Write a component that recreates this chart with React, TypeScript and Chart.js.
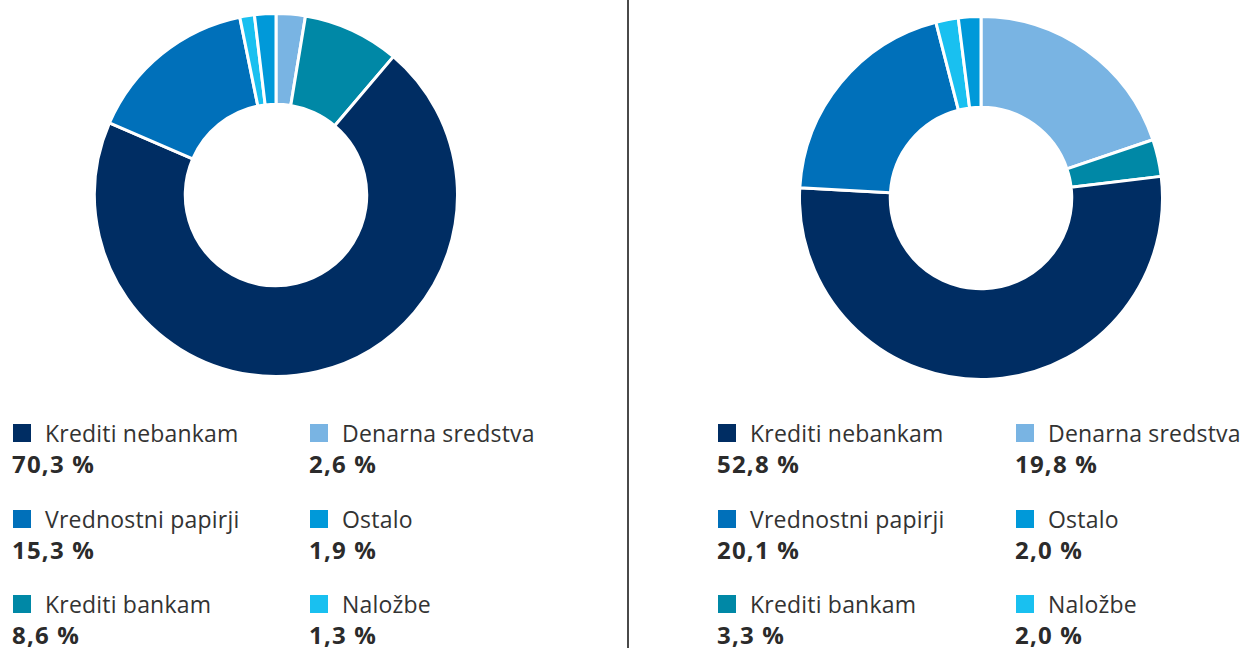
import React, { useEffect, useRef } from "react";
import { Chart, registerables } from "chart.js";

Chart.register(...registerables);

const categories = [
  "Denarna sredstva",
  "Krediti bankam",
  "Krediti nebankam",
  "Vrednostni papirji",
  "Naložbe",
  "Ostalo",
];
const leftValues = [2.6, 8.6, 70.3, 15.3, 1.3, 1.9];
const rightValues = [19.8, 3.3, 52.8, 20.1, 2.0, 2.0];
const colors = ["#79B4E3", "#0088A6", "#002D63", "#0070BA", "#19C0F0", "#0099D9"];
// legend grid (rows of [col1, col2]) as category indexes
const legendRows = [
  [2, 0],
  [3, 5],
  [1, 4],
];

const fmt = (v: number) => v.toFixed(1).replace(".", ",") + " %";

const FONT = "'Open Sans', 'DejaVu Sans', sans-serif";

function Doughnut({ values, left, top, size }: { values: number[]; left: number; top: number; size: number }) {
  const ref = useRef<HTMLCanvasElement | null>(null);
  useEffect(() => {
    if (!ref.current) return;
    const chart = new Chart(ref.current, {
      type: "doughnut",
      data: {
        labels: categories,
        datasets: [
          {
            data: values,
            backgroundColor: colors,
            borderColor: "#ffffff",
            borderWidth: 3,
          },
        ],
      },
      options: {
        responsive: false,
        animation: false,
        cutout: "50%",
        plugins: { legend: { display: false }, tooltip: { enabled: false } },
        layout: { padding: 0 },
      },
    });
    return () => chart.destroy();
  }, [values]);
  return (
    <canvas
      ref={ref}
      width={size}
      height={size}
      style={{ position: "absolute", left, top, width: size, height: size }}
    />
  );
}

function Legend({ values, x1, x2, top }: { values: number[]; x1: number; x2: number; top: number }) {
  const rowGap = 85.5;
  const items: JSX.Element[] = [];
  legendRows.forEach((row, r) => {
    row.forEach((ci, c) => {
      const x = c === 0 ? x1 : x2;
      const y = top + r * rowGap;
      items.push(
        <div key={`${r}-${c}`} style={{ position: "absolute", left: x, top: y }}>
          <div style={{ position: "absolute", left: 0, top: 0, width: 18, height: 18, background: colors[ci] }} />
          <div
            style={{
              position: "absolute",
              left: 32,
              top: -6,
              fontFamily: FONT,
              fontSize: 23,
              lineHeight: "30px",
              letterSpacing: "0.2px",
              color: "#333333",
              whiteSpace: "nowrap",
            }}
          >
            {categories[ci]}
          </div>
          <div
            style={{
              position: "absolute",
              left: -1,
              top: 25,
              fontFamily: FONT,
              fontSize: 24,
              fontWeight: 700,
              lineHeight: "30px",
              letterSpacing: "1.2px",
              color: "#2b2b2b",
              whiteSpace: "nowrap",
            }}
          >
            {fmt(values[ci])}
          </div>
        </div>
      );
    });
  });
  return <>{items}</>;
}

export default function App() {
  return (
    <div
      style={{
        position: "absolute",
        left: 0,
        top: 0,
        width: 1243,
        height: 648,
        background: "#ffffff",
        overflow: "hidden",
      }}
    >
      <Doughnut values={leftValues} left={93} top={12} size={366} />
      <Doughnut values={rightValues} left={798} top={15} size={366} />
      <div style={{ position: "absolute", left: 627, top: 0, width: 2, height: 648, background: "#4a4a4a" }} />
      <Legend values={leftValues} x1={13} x2={310} top={424} />
      <Legend values={rightValues} x1={718} x2={1016} top={424} />
    </div>
  );
}
